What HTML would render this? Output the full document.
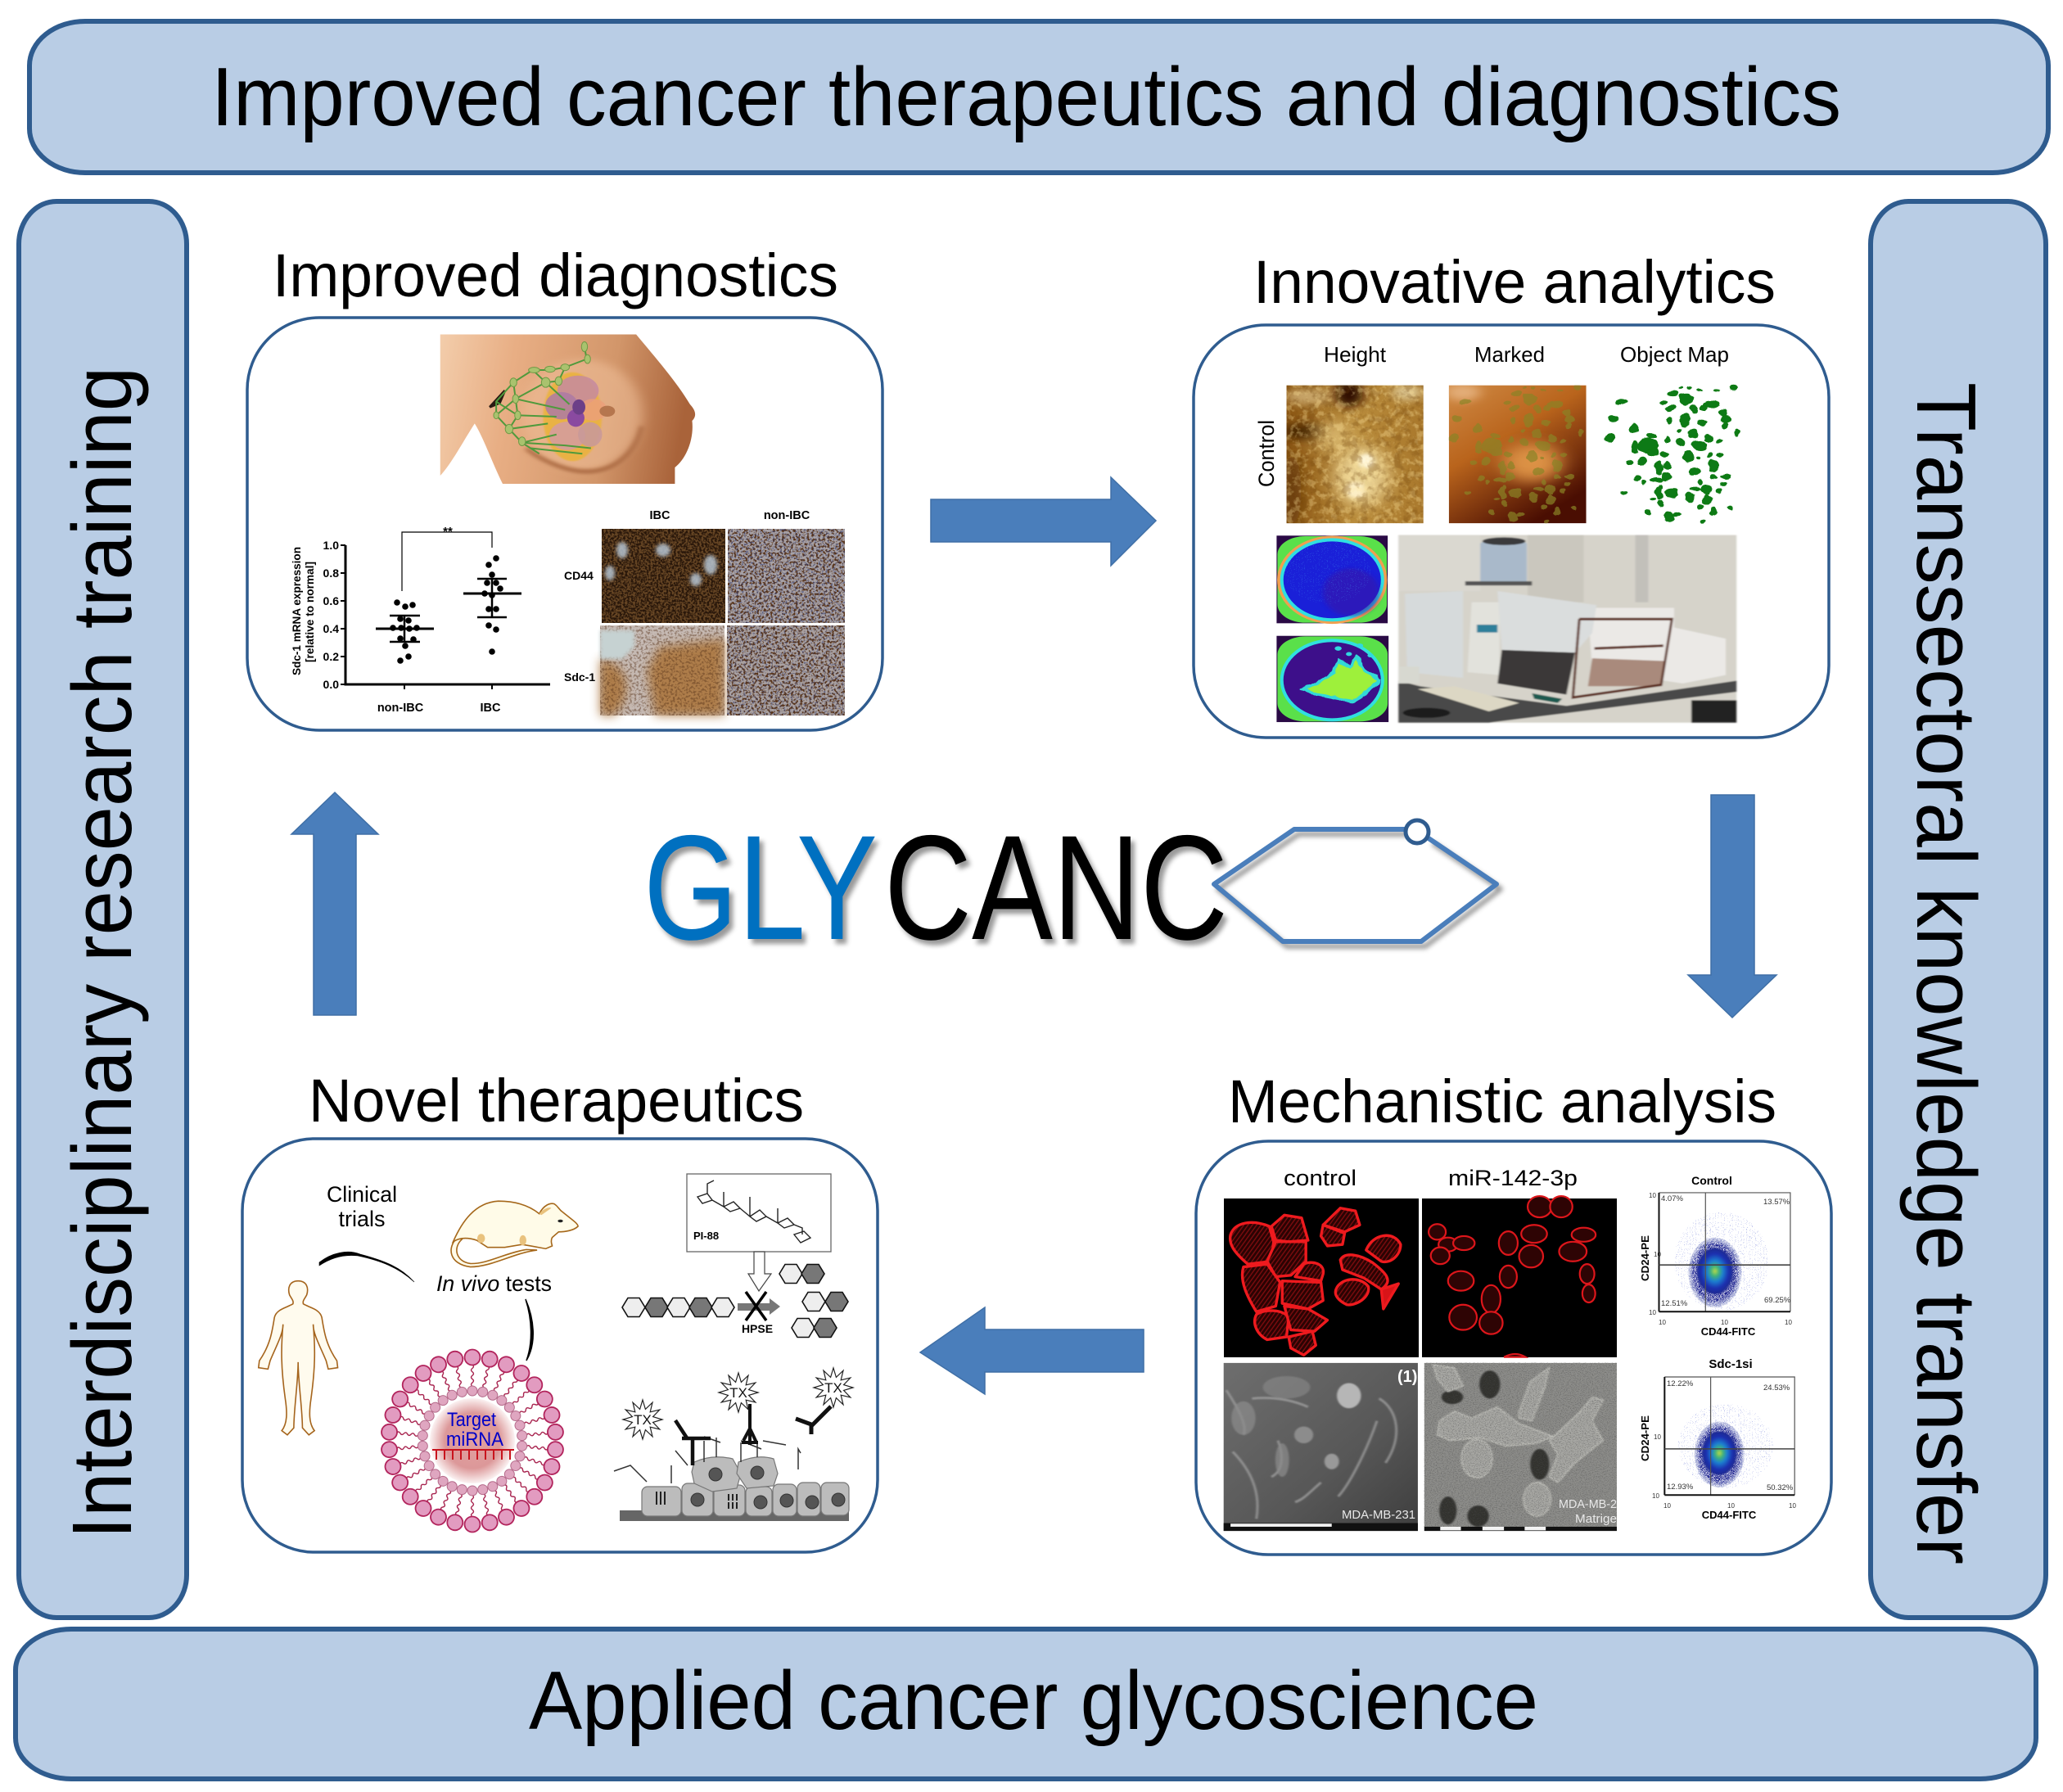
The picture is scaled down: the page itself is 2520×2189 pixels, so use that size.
<!DOCTYPE html>
<html><head><meta charset="utf-8"><title>GLYCANC</title>
<style>
html,body{margin:0;padding:0;background:#fff}
svg{display:block}
text{font-family:"Liberation Sans",sans-serif}
.ns *{vector-effect:non-scaling-stroke}
.b{font-weight:bold}
</style></head><body>
<svg width="2520" height="2189" viewBox="0 0 2520 2189" xmlns="http://www.w3.org/2000/svg">
<defs>
<filter id="shadow" x="-5%" y="-10%" width="115%" height="125%" color-interpolation-filters="sRGB"><feDropShadow dx="5" dy="6" stdDeviation="3" flood-color="#000" flood-opacity=".4"/></filter>
<filter id="nBrown" x="0" y="0" width="1" height="1" color-interpolation-filters="sRGB"><feTurbulence type="fractalNoise" baseFrequency=".42" numOctaves="2" seed="3"/><feColorMatrix values="0 0 0 0 .16  0 0 0 0 .09  0 0 0 0 .04  5 0 0 0 -2"/></filter>
<filter id="nBrown2" x="0" y="0" width="1" height="1" color-interpolation-filters="sRGB"><feTurbulence type="fractalNoise" baseFrequency=".36" numOctaves="2" seed="8"/><feColorMatrix values="0 0 0 0 .34  0 0 0 0 .2  0 0 0 0 .1  6 0 0 0 -2.9"/></filter>
<filter id="nBlue" x="0" y="0" width="1" height="1" color-interpolation-filters="sRGB"><feTurbulence type="fractalNoise" baseFrequency=".45" numOctaves="2" seed="12"/><feColorMatrix values="0 0 0 0 .2  0 0 0 0 .24  0 0 0 0 .45  7 0 0 0 -3.8"/></filter>
<filter id="nGray" x="0" y="0" width="1" height="1" color-interpolation-filters="sRGB"><feTurbulence type="fractalNoise" baseFrequency=".35" numOctaves="3" seed="5"/><feColorMatrix values="0 0 0 0 .3  0 0 0 0 .3  0 0 0 0 .3  4 0 0 0 -1.9"/></filter>
<filter id="nAFM" x="0" y="0" width="1" height="1" color-interpolation-filters="sRGB"><feTurbulence type="fractalNoise" baseFrequency=".06 .04" numOctaves="3" seed="21"/><feColorMatrix values="0 0 0 0 1  0 0 0 0 .9  0 0 0 0 .62  5 0 0 0 -2.4"/></filter>
<filter id="nAFMd" x="0" y="0" width="1" height="1" color-interpolation-filters="sRGB"><feTurbulence type="fractalNoise" baseFrequency=".05 .035" numOctaves="3" seed="33"/><feColorMatrix values="0 0 0 0 .42  0 0 0 0 .24  0 0 0 0 .03  5 0 0 0 -2.4"/></filter>
<filter id="speck" x="-10%" y="-10%" width="120%" height="120%" color-interpolation-filters="sRGB"><feTurbulence type="fractalNoise" baseFrequency="1" numOctaves="1" seed="4" result="t"/><feColorMatrix in="t" values="0 0 0 0 0  0 0 0 0 0  0 0 0 0 0  18 0 0 0 -8" result="m"/><feComposite in="SourceGraphic" in2="m" operator="in"/></filter>
<filter id="speck2" x="-10%" y="-10%" width="120%" height="120%" color-interpolation-filters="sRGB"><feTurbulence type="fractalNoise" baseFrequency=".9" numOctaves="1" seed="9" result="t"/><feColorMatrix in="t" values="0 0 0 0 0  0 0 0 0 0  0 0 0 0 0  30 0 0 0 -20" result="m"/><feComposite in="SourceGraphic" in2="m" operator="in"/></filter>
<filter id="rough" x="-5%" y="-5%" width="110%" height="110%"><feTurbulence type="fractalNoise" baseFrequency=".035" numOctaves="2" seed="7"/><feDisplacementMap in="SourceGraphic" scale="16" xChannelSelector="R" yChannelSelector="G"/></filter>
<filter id="bl2" x="-10%" y="-10%" width="120%" height="120%"><feGaussianBlur stdDeviation="2"/></filter>
<filter id="bl6" x="-30%" y="-30%" width="160%" height="160%"><feGaussianBlur stdDeviation="6"/></filter>
<filter id="bl14" x="-60%" y="-60%" width="220%" height="220%"><feGaussianBlur stdDeviation="14"/></filter>
<filter id="bl30" x="-100%" y="-100%" width="300%" height="300%"><feGaussianBlur stdDeviation="24"/></filter>
<linearGradient id="skin" x1="0" x2="1" y1="0" y2=".1"><stop offset="0" stop-color="#f3cdab"/><stop offset=".3" stop-color="#e8ae84"/><stop offset=".7" stop-color="#d2966a"/><stop offset="1" stop-color="#a9633a"/></linearGradient>
<radialGradient id="core"><stop offset="0" stop-color="#e2a0a0"/><stop offset=".65" stop-color="#dc9899"/><stop offset="1" stop-color="#fbf2f2"/></radialGradient>
<radialGradient id="blob"><stop offset="0" stop-color="#b9d94a"/><stop offset=".22" stop-color="#3fb37a"/><stop offset=".45" stop-color="#1e7fd0"/><stop offset=".75" stop-color="#1a30b0"/><stop offset="1" stop-color="#202a90"/></radialGradient>
<radialGradient id="blobO"><stop offset="0" stop-color="#151a88"/><stop offset=".8" stop-color="#161c8c"/><stop offset="1" stop-color="#3040a0" stop-opacity=".3"/></radialGradient>
<linearGradient id="sem1" x1="0" x2="1" y1="0" y2="1"><stop offset="0" stop-color="#6e6e6e"/><stop offset=".6" stop-color="#575757"/><stop offset="1" stop-color="#3e3e3e"/></linearGradient>
<linearGradient id="mark" x1="0" x2=".6" y1="0" y2="1"><stop offset="0" stop-color="#cf8a45"/><stop offset=".45" stop-color="#b9641c"/><stop offset="1" stop-color="#4a0e02"/></linearGradient>
<linearGradient id="afm" x1="0" x2="1" y1="0" y2="0"><stop offset="0" stop-color="#8a5512"/><stop offset=".5" stop-color="#b98c3c"/><stop offset="1" stop-color="#a9782c"/></linearGradient>
<pattern id="stri" width="9" height="9" patternUnits="userSpaceOnUse" patternTransform="rotate(25)"><rect width="9" height="9" fill="#2a0303"/><rect width="3" height="9" fill="#7a0c0e"/></pattern>
<clipPath id="cH"><rect x="250" y="265" width="318" height="493"/></clipPath>
<clipPath id="cM"><rect x="627" y="265" width="319" height="493"/></clipPath>
<polygon id="hex" points="-14,0 -7,-11.5 7,-11.5 14,0 7,11.5 -7,11.5"/>
<polygon id="star" points="24,0 12.6,3.4 20.8,12 9.2,9.2 12,20.8 3.4,12.6 0,24 -3.4,12.6 -12,20.8 -9.2,9.2 -20.8,12 -12.6,3.4 -24,0 -12.6,-3.4 -20.8,-12 -9.2,-9.2 -12,-20.8 -3.4,-12.6 0,-24 3.4,-12.6 12,-20.8 9.2,-9.2 20.8,-12 12.6,-3.4" fill="#fff" stroke="#222" stroke-width="1.2"/>
<g id="lip">
<path d="M0,-93 q3,2.2 0,4.4 q-3,2.2 0,4.4 q3,2.2 0,4.4 q-3,2.2 0,4.4 q3,2.2 0,4.4 q-3,2.2 0,4.4 q3,2.2 0,4.4" fill="none" stroke="#a8244f" stroke-width="1.4"/>
<circle cy="-102" r="9.5" fill="#e29bc0" stroke="#b2245c" stroke-width="1.8"/>
<circle cy="-61" r="6" fill="#dfa6c0" stroke="#b56a8a" stroke-width="1"/>
</g>
<g id="objs">
  <ellipse cx="1178" cy="315" rx="15" ry="22"/><ellipse cx="1238" cy="333" rx="17" ry="13"/><ellipse cx="1150" cy="295" rx="12" ry="8"/><ellipse cx="1123" cy="325" rx="7" ry="8"/><ellipse cx="1143" cy="348" rx="8" ry="12"/><ellipse cx="1197" cy="352" rx="7" ry="14"/><ellipse cx="1218" cy="345" rx="8" ry="9"/><ellipse cx="1175" cy="390" rx="12" ry="22"/><ellipse cx="1138" cy="390" rx="7" ry="14"/><ellipse cx="1215" cy="397" rx="10" ry="9"/><ellipse cx="1270" cy="385" rx="10" ry="14"/><ellipse cx="1268" cy="408" rx="6" ry="10"/><ellipse cx="1265" cy="362" rx="8" ry="12"/><ellipse cx="1027" cy="325" rx="10" ry="10"/><ellipse cx="1010" cy="383" rx="10" ry="11"/><ellipse cx="1058" cy="418" rx="8" ry="17"/><ellipse cx="1000" cy="453" rx="9" ry="12"/><ellipse cx="1195" cy="437" rx="8" ry="17"/><ellipse cx="1160" cy="427" rx="5" ry="7"/><ellipse cx="1098" cy="445" rx="11" ry="9"/><ellipse cx="1090" cy="480" rx="22" ry="25"/><ellipse cx="1058" cy="485" rx="8" ry="20"/><ellipse cx="1102" cy="503" rx="13" ry="15"/><ellipse cx="1133" cy="458" rx="6" ry="10"/><ellipse cx="1165" cy="470" rx="10" ry="12"/><ellipse cx="1210" cy="480" rx="15" ry="17"/><ellipse cx="1230" cy="455" rx="8" ry="12"/><ellipse cx="1255" cy="465" rx="6" ry="7"/><ellipse cx="1183" cy="518" rx="10" ry="18"/><ellipse cx="1235" cy="515" rx="5" ry="8"/><ellipse cx="1257" cy="513" rx="5" ry="9"/><ellipse cx="1205" cy="522" rx="4" ry="5"/><ellipse cx="1240" cy="553" rx="11" ry="20"/><ellipse cx="1197" cy="573" rx="14" ry="14"/><ellipse cx="1075" cy="538" rx="9" ry="14"/><ellipse cx="1047" cy="543" rx="7" ry="10"/><ellipse cx="1115" cy="560" rx="9" ry="22"/><ellipse cx="1133" cy="550" rx="7" ry="12"/><ellipse cx="1128" cy="510" rx="8" ry="10"/><ellipse cx="1065" cy="598" rx="7" ry="12"/><ellipse cx="1080" cy="613" rx="4" ry="6"/><ellipse cx="1110" cy="603" rx="14" ry="8"/><ellipse cx="1132" cy="590" rx="11" ry="14"/><ellipse cx="1243" cy="592" rx="8" ry="8"/><ellipse cx="1270" cy="590" rx="10" ry="8"/><ellipse cx="1265" cy="617" rx="7" ry="7"/><ellipse cx="1225" cy="637" rx="12" ry="18"/><ellipse cx="1200" cy="635" rx="10" ry="6"/><ellipse cx="1255" cy="645" rx="5" ry="8"/><ellipse cx="1210" cy="610" rx="6" ry="8"/><ellipse cx="1033" cy="648" rx="7" ry="7"/><ellipse cx="1115" cy="650" rx="8" ry="22"/><ellipse cx="1145" cy="652" rx="12" ry="14"/><ellipse cx="1188" cy="665" rx="10" ry="17"/><ellipse cx="1225" cy="675" rx="9" ry="18"/><ellipse cx="1118" cy="690" rx="6" ry="14"/><ellipse cx="1100" cy="672" rx="5" ry="4"/><ellipse cx="1088" cy="718" rx="7" ry="10"/><ellipse cx="1210" cy="703" rx="8" ry="8"/><ellipse cx="1243" cy="713" rx="7" ry="12"/><ellipse cx="1282" cy="703" rx="7" ry="8"/><ellipse cx="1140" cy="735" rx="12" ry="17"/><ellipse cx="1158" cy="725" rx="7" ry="8"/><ellipse cx="1215" cy="752" rx="5" ry="6"/><ellipse cx="1288" cy="275" rx="7" ry="8"/><ellipse cx="1185" cy="272" rx="5" ry="4"/><ellipse cx="1210" cy="283" rx="5" ry="4"/><ellipse cx="1250" cy="285" rx="5" ry="3"/><ellipse cx="1295" cy="435" rx="4" ry="9"/><ellipse cx="1163" cy="272" rx="4" ry="4"/><ellipse cx="1120" cy="628" rx="4" ry="8"/>
</g>
</defs>
<rect width="2520" height="2189" fill="#fff"/>

<!-- frames -->
<g fill="#b9cde5" stroke="#2f5c8f" stroke-width="6">
<rect x="36" y="26" width="2466" height="185" rx="68" ry="54"/>
<rect x="23" y="246" width="205" height="1730" rx="46" ry="52"/>
<rect x="2285" y="246" width="214" height="1730" rx="46" ry="52"/>
<rect x="19" y="1990" width="2468" height="183" rx="68" ry="50"/>
</g>
<text x="258" y="153" font-size="101" textLength="1991" lengthAdjust="spacingAndGlyphs">Improved cancer therapeutics and diagnostics</text>
<text x="646" y="2112" font-size="101" textLength="1233" lengthAdjust="spacingAndGlyphs">Applied cancer glycoscience</text>
<text transform="translate(160 1880) rotate(-90)" font-size="103" textLength="1432" lengthAdjust="spacingAndGlyphs">Interdisciplinary research training</text>
<text transform="translate(2342 467) rotate(90)" font-size="103" textLength="1444" lengthAdjust="spacingAndGlyphs">Transsectoral knowledge transfer</text>

<!-- panels -->
<g fill="#fff" stroke="#2f5c8f" stroke-width="3.5">
<rect x="302" y="388" width="776" height="504" rx="88" ry="88"/>
<rect x="1458" y="397" width="776" height="504" rx="88" ry="88"/>
<rect x="296" y="1391" width="776" height="505" rx="88" ry="88"/>
<rect x="1461" y="1394" width="776" height="505" rx="88" ry="88"/>
</g>
<text x="333" y="362" font-size="74" textLength="691" lengthAdjust="spacingAndGlyphs">Improved diagnostics</text>
<text x="1531" y="370" font-size="74" textLength="638" lengthAdjust="spacingAndGlyphs">Innovative analytics</text>
<text x="377" y="1370" font-size="74" textLength="605" lengthAdjust="spacingAndGlyphs">Novel therapeutics</text>
<text x="1500" y="1371" font-size="74" textLength="670" lengthAdjust="spacingAndGlyphs">Mechanistic analysis</text>

<!-- arrows -->
<g fill="#4a7ebb" stroke="#3f6fa6" stroke-width="1.5">
<polygon points="1137,610 1357,610 1357,583 1412,636 1357,691 1357,662 1137,662"/>
<polygon points="2090,971 2143,971 2143,1191 2170,1191 2116,1243 2062,1191 2090,1191"/>
<polygon points="1397,1624 1203,1624 1203,1597 1124,1652 1203,1703 1203,1676 1397,1676"/>
<polygon points="383,1240 435,1240 435,1019 462,1019 409,968 356,1019 383,1019"/>
</g>

<!-- logo -->
<g filter="url(#shadow)">
<text x="786" y="1147" font-size="182" fill="#0070c0" textLength="286" lengthAdjust="spacingAndGlyphs">GLY</text>
<text x="1080" y="1147" font-size="182" fill="#000" textLength="420" lengthAdjust="spacingAndGlyphs">CANC</text>
<polyline points="1733,1013 1581,1013 1483,1080 1567,1150 1736,1150 1828,1080 1745,1024" fill="none" stroke="#4a7ebb" stroke-width="6" stroke-linejoin="round"/>
</g>
<ellipse cx="1731" cy="1016" rx="14" ry="14" fill="#fff" stroke="#2f5c8f" stroke-width="5"/>

<!-- PANEL 1 -->
<g class="ns" transform="translate(280 380) scale(.526 .335)">
 <path d="M490,85 L945,85 C990,170 1040,260 1070,340 C1085,365 1085,385 1075,400 C1080,470 1060,540 1035,570 L1035,630 L635,630 C610,550 590,460 570,410 C545,470 515,560 490,600 Z" fill="url(#skin)"/>
 <ellipse cx="820" cy="380" rx="140" ry="205" fill="#eebd97" filter="url(#bl14)" opacity=".6"/>
 <path d="M958,420 C945,510 900,585 830,585 C780,585 720,540 690,500" fill="none" stroke="#a9683f" stroke-width="5" filter="url(#bl6)"/>
 <path d="M605,350 L640,290 L628,335 Z" fill="#2a1a12" stroke="#2a1a12" stroke-width="3"/>
 <ellipse cx="797" cy="385" rx="68" ry="162" fill="#eab33c" opacity=".9" filter="url(#bl2)"/>
 <ellipse cx="810" cy="290" rx="48" ry="55" fill="#c58aa0" opacity=".85"/>
 <ellipse cx="772" cy="345" rx="38" ry="50" fill="#ad7aa3" opacity=".85"/>
 <ellipse cx="785" cy="455" rx="42" ry="52" fill="#d59c9c" opacity=".9"/>
 <ellipse cx="838" cy="450" rx="28" ry="45" fill="#c99999" opacity=".9"/>
 <ellipse cx="845" cy="360" rx="32" ry="40" fill="#eb9f7a" opacity=".85"/>
 <ellipse cx="805" cy="390" rx="20" ry="32" fill="#8a4aa0"/>
 <ellipse cx="812" cy="350" rx="15" ry="28" fill="#6c3f88"/>
 <ellipse cx="878" cy="365" rx="18" ry="20" fill="#b5764e"/>
 <g fill="none" stroke="#4f9a3c" stroke-width="2">
  <path d="M825,130 L830,175 L780,205 L745,215 L705,215 L660,260 L620,330 L620,380 L650,430 L680,480 L720,520"/>
  <path d="M705,215 L735,260 L765,255 L780,205 M660,260 L665,320 L670,380 L650,430 M665,320 L620,380 M670,380 L620,330 M735,260 L665,320 M680,480 L780,490 L840,500 M650,430 L740,410 M670,380 L760,385 M665,320 L780,360 M735,260 L790,340 M680,480 L760,450 M700,500 L820,520"/>
 </g>
 <g fill="#a9c26e" stroke="#6f9a45" stroke-width="1">
  <ellipse cx="825" cy="130" rx="7" ry="18"/><ellipse cx="832" cy="175" rx="7" ry="16"/><ellipse cx="780" cy="205" rx="10" ry="12"/><ellipse cx="745" cy="212" rx="12" ry="11"/><ellipse cx="708" cy="215" rx="13" ry="10"/><ellipse cx="660" cy="260" rx="8" ry="16"/><ellipse cx="735" cy="260" rx="10" ry="18"/><ellipse cx="765" cy="255" rx="8" ry="16"/><ellipse cx="665" cy="320" rx="7" ry="16"/><ellipse cx="670" cy="380" rx="7" ry="16"/><ellipse cx="620" cy="380" rx="6" ry="13"/><ellipse cx="650" cy="430" rx="9" ry="17"/><ellipse cx="680" cy="475" rx="8" ry="16"/>
 </g>
</g>
<!-- scatter -->
<g fill="none" stroke="#000">
 <path d="M422,666 V836 H672" stroke-width="3"/>
 <path d="M416,666H422M416,700H422M416,734H422M416,768H422M416,802H422M416,836H422M494,836V842M601,836V842" stroke-width="2"/>
 <path d="M491,722V650H601V669" stroke-width="1.2"/>
 <path d="M459,768H530M566,725H637" stroke-width="3"/>
 <path d="M476,752H513M476,784H513M494,752V784M583,707H619M583,754H619M601,707V754" stroke-width="2.5"/>
</g>
<g fill="#000">
 <circle cx="485" cy="736" r="3.8"/><circle cx="495" cy="741" r="3.8"/><circle cx="504" cy="739" r="3.8"/><circle cx="489" cy="756" r="3.8"/><circle cx="499" cy="758" r="3.8"/><circle cx="480" cy="767" r="3.8"/><circle cx="490" cy="767" r="3.8"/><circle cx="500" cy="768" r="3.8"/><circle cx="509" cy="767" r="3.8"/><circle cx="489" cy="780" r="3.8"/><circle cx="505" cy="781" r="3.8"/><circle cx="495" cy="789" r="3.8"/><circle cx="499" cy="802" r="3.8"/><circle cx="489" cy="807" r="3.8"/>
 <circle cx="606" cy="682" r="3.8"/><circle cx="597" cy="690" r="3.8"/><circle cx="601" cy="702" r="3.8"/><circle cx="595" cy="712" r="3.8"/><circle cx="606" cy="712" r="3.8"/><circle cx="592" cy="725" r="3.8"/><circle cx="611" cy="719" r="3.8"/><circle cx="601" cy="727" r="3.8"/><circle cx="597" cy="744" r="3.8"/><circle cx="606" cy="744" r="3.8"/><circle cx="597" cy="764" r="3.8"/><circle cx="606" cy="769" r="3.8"/><circle cx="601" cy="796" r="3.8"/>
</g>
<g class="b" font-size="14" text-anchor="end">
 <text x="414" y="671">1.0</text><text x="414" y="705">0.8</text><text x="414" y="739">0.6</text><text x="414" y="773">0.4</text><text x="414" y="807">0.2</text><text x="414" y="841">0.0</text>
</g>
<text class="b" x="547" y="654" font-size="15" text-anchor="middle">**</text>
<text class="b" x="489" y="869" font-size="14.5" text-anchor="middle">non-IBC</text>
<text class="b" x="599" y="869" font-size="14.5" text-anchor="middle">IBC</text>
<text class="b" transform="translate(367 825) rotate(-90)" font-size="13.5" textLength="157" lengthAdjust="spacingAndGlyphs">Sdc-1 mRNA expression</text>
<text class="b" transform="translate(383 809) rotate(-90)" font-size="13.5" textLength="123" lengthAdjust="spacingAndGlyphs">[relative to normal]</text>
<!-- histology -->
<rect x="735" y="646" width="151" height="115" fill="#674624"/><rect x="735" y="646" width="151" height="115" filter="url(#nBrown)"/>
<g fill="#b6c4d2" opacity=".85" filter="url(#bl2)"><ellipse cx="760" cy="672" rx="7" ry="10"/><ellipse cx="810" cy="672" rx="9" ry="8"/><ellipse cx="868" cy="690" rx="8" ry="12"/><ellipse cx="850" cy="708" rx="7" ry="8"/><ellipse cx="745" cy="700" rx="6" ry="9"/></g>
<rect x="889" y="646" width="143" height="115" fill="#a8a2a6"/><rect x="889" y="646" width="143" height="115" filter="url(#nBrown2)"/><rect x="889" y="646" width="143" height="115" filter="url(#nBlue)" opacity=".6"/>
<rect x="733" y="764" width="152" height="110" fill="#c6bab4"/>
<path d="M805,790 L885,780 V874 L800,874 L790,820Z M733,805 C770,810 775,850 750,874 H733Z" fill="#ad7a45" opacity=".95" filter="url(#bl6)"/>
<rect x="733" y="764" width="152" height="110" filter="url(#nBrown2)" opacity=".45"/>
<path d="M733,770 L775,770 L775,790 L760,805 L733,805Z" fill="#c6d2d2" filter="url(#bl2)"/>
<rect x="888" y="764" width="144" height="110" fill="#aaa2a2"/><rect x="888" y="764" width="144" height="110" filter="url(#nBrown2)"/><rect x="888" y="764" width="144" height="110" filter="url(#nBlue)" opacity=".5"/>
<text class="b" x="806" y="634" font-size="14.5" text-anchor="middle">IBC</text>
<text class="b" x="961" y="634" font-size="14.5" text-anchor="middle">non-IBC</text>
<text class="b" x="689" y="708" font-size="14">CD44</text>
<text class="b" x="689" y="832" font-size="14">Sdc-1</text>

<!-- PANEL 2 -->
<g class="ns" transform="translate(1440 380) scale(.526 .342)">
 <g clip-path="url(#cH)">
  <rect x="250" y="265" width="318" height="493" fill="url(#afm)"/>
  <ellipse cx="395" cy="295" rx="32" ry="48" fill="#2e1002" filter="url(#bl14)"/>
  <ellipse cx="290" cy="430" rx="50" ry="30" fill="#4a2806" filter="url(#bl14)"/>
  <ellipse cx="262" cy="640" rx="22" ry="130" fill="#6a3e08" filter="url(#bl14)"/>
  <ellipse cx="300" cy="305" rx="55" ry="30" fill="#dcc088" opacity=".7" filter="url(#bl14)"/>
  <ellipse cx="530" cy="290" rx="36" ry="30" fill="#e8d8a8" opacity=".8" filter="url(#bl14)"/>
  <ellipse cx="425" cy="590" rx="62" ry="110" fill="#efd99c" opacity=".9" filter="url(#bl30)"/>
  <ellipse cx="360" cy="450" rx="42" ry="60" fill="#e3c47c" opacity=".8" filter="url(#bl30)"/>
  <ellipse cx="435" cy="535" rx="18" ry="26" fill="#fff6d8" filter="url(#bl6)"/>
  <ellipse cx="410" cy="640" rx="22" ry="30" fill="#fff2cc" opacity=".9" filter="url(#bl6)"/>
  <rect x="250" y="265" width="318" height="493" filter="url(#nAFM)" opacity=".35"/>
  <rect x="250" y="265" width="318" height="493" filter="url(#nAFMd)" opacity=".28"/>
 </g>
 <g clip-path="url(#cM)">
  <rect x="627" y="265" width="319" height="493" fill="url(#mark)"/>
  <ellipse cx="820" cy="540" rx="70" ry="70" fill="#dc9144" filter="url(#bl30)"/>
  <ellipse cx="660" cy="290" rx="40" ry="30" fill="#e3ad78" filter="url(#bl14)"/>
  <use href="#objs" transform="translate(-363 0)" fill="#8a8428" stroke="#8a8428" stroke-width="2" opacity=".7" filter="url(#rough)"/>
 </g>
 <use href="#objs" fill="#0d7a12" stroke="#0d7a12" stroke-width="3" filter="url(#rough)"/>
 <!-- colour maps -->
 <rect x="227" y="802" width="258" height="313" fill="#2a0a45"/>
 <rect x="229" y="804" width="254" height="309" rx="65" ry="65" fill="#5ae04a"/>
 <ellipse cx="356" cy="960" rx="123" ry="150" fill="none" stroke="#f0a050" stroke-width="5"/>
 <ellipse cx="356" cy="960" rx="117" ry="143" fill="#1a20d8" stroke="#30e0e0" stroke-width="4"/>
 <ellipse cx="400" cy="1005" rx="65" ry="85" fill="#3814a8" opacity=".6" filter="url(#bl6)"/>
 <ellipse cx="345" cy="930" rx="100" ry="115" fill="#48a8f4" filter="url(#speck2)" opacity=".55"/>
 <rect x="227" y="1160" width="260" height="308" fill="#2a0a45"/>
 <rect x="229" y="1162" width="256" height="304" rx="65" ry="65" fill="#5ae04a"/>
 <ellipse cx="356" cy="1318" rx="117" ry="142" fill="#3d0f8a" stroke="#30e0e0" stroke-width="4"/>
 <path d="M290,1350 L330,1320 L360,1290 L370,1250 L400,1270 L415,1235 L430,1280 L465,1320 L440,1360 L400,1395 L360,1380 L320,1370Z" fill="#9ef03a" stroke="#30d8d8" stroke-width="4" filter="url(#rough)"/>
 <g fill="#30d8e0"><circle cx="370" cy="1205" r="8"/><circle cx="420" cy="1195" r="8"/><circle cx="395" cy="1225" r="7"/><circle cx="445" cy="1230" r="7"/></g>
 <!-- instrument photo -->
 <g filter="url(#bl2)">
 <rect x="510" y="800" width="785" height="670" fill="#d6d3ca"/>
 <rect x="810" y="800" width="130" height="240" fill="#cac7be"/><rect x="1060" y="800" width="30" height="240" fill="#c2c0ba"/><rect x="510" y="800" width="190" height="200" fill="#dad8d0"/>
 <path d="M700,830 C720,805 790,805 808,830 V965 H700Z" fill="#a9b9ca"/>
 <ellipse cx="755" cy="822" rx="50" ry="14" fill="#3a3a3e"/>
 <rect x="665" y="965" width="155" height="15" fill="#555"/>
 <polygon points="525,1010 660,1000 660,1310 530,1290" fill="#d6dadb"/>
 <polygon points="680,1040 745,1040 745,1300 670,1290" fill="#e2e2dc"/><rect x="692" y="1120" width="48" height="28" fill="#2f7f9a"/>
 <polygon points="950,1060 1150,1060 1150,1130 1270,1170 1270,1300 1170,1330 960,1280" fill="#ebe9e6"/>
 <polygon points="740,1000 970,1050 960,1150 920,1220 750,1210" fill="#dadddd"/>
 <polygon points="750,1210 920,1220 900,1370 740,1330" fill="#3a3938"/>
 <polygon points="960,1240 1130,1250 1120,1340 950,1340" fill="#a98a7c"/>
 <g fill="none" stroke="#5a2b1c" stroke-width="3"><polyline points="930,1100 1145,1100 1120,1335 915,1380 930,1100"/><polyline points="965,1205 1125,1195"/></g>
 <polygon points="510,1320 560,1340 900,1410 1295,1320 1295,1360 720,1470 510,1470" fill="#4a4a48"/>
 <polygon points="555,1350 640,1340 790,1400 720,1430" fill="#dcd7c4"/>
 <polygon points="820,1365 890,1385 880,1400 825,1385" fill="#1f5a50"/>
 <rect x="510" y="1270" width="48" height="60" fill="#d7d8d0"/>
 <ellipse cx="575" cy="1435" rx="55" ry="18" fill="#1c1c1e"/>
 <rect x="1190" y="1390" width="105" height="80" fill="#222"/>
 </g>
</g>
<text x="1655" y="442" font-size="26" text-anchor="middle" textLength="76" lengthAdjust="spacingAndGlyphs">Height</text>
<text x="1844" y="442" font-size="26" text-anchor="middle" textLength="86" lengthAdjust="spacingAndGlyphs">Marked</text>
<text x="1979" y="442" font-size="26" textLength="133" lengthAdjust="spacingAndGlyphs">Object Map</text>
<text transform="translate(1556 595) rotate(-90)" font-size="27" textLength="82" lengthAdjust="spacingAndGlyphs">Control</text>

<!-- PANEL 3 -->
<text x="442" y="1468" font-size="27" text-anchor="middle" textLength="86" lengthAdjust="spacingAndGlyphs">Clinical</text>
<text x="442" y="1498" font-size="27" text-anchor="middle">trials</text>
<text x="533" y="1577" font-size="27" textLength="141" lengthAdjust="spacingAndGlyphs"><tspan font-style="italic">In vivo</tspan> tests</text>
<g class="ns" transform="translate(280 1380) scale(.526 .342)">
 <path d="M530,385 C505,420 510,480 560,490 C610,490 660,440 715,430 L690,428 C640,440 600,480 560,478 C525,470 520,420 540,392Z" fill="#fffbe8" stroke="#a5671a" stroke-width="1.6"/>
 <path d="M520,400 C540,330 570,260 625,255 C670,255 700,275 720,300 C730,270 745,260 755,265 C765,275 765,285 775,295 C795,320 810,335 810,345 C800,360 780,365 765,365 L750,385 C745,400 750,410 750,415 L735,425 L700,415 L680,410 L640,420 L600,420 L575,395 C555,385 535,385 520,400Z" fill="#fffbe8" stroke="#a5671a" stroke-width="1.6"/>
 <path d="M720,300 C730,280 745,275 748,280 L725,305Z" fill="#e9c27e"/>
 <ellipse cx="585" cy="388" rx="9" ry="16" fill="#e9c27e"/><ellipse cx="682" cy="395" rx="8" ry="18" fill="#e9c27e"/>
 <ellipse cx="769" cy="326" rx="6" ry="5" fill="#222"/>
 <path d="M160,540 C140,540 135,565 140,590 C145,605 150,610 148,622 C135,635 110,640 105,670 C100,720 95,770 70,825 L68,850 L90,855 L95,825 C110,770 125,730 125,695 C120,780 120,850 130,960 C135,1010 135,1050 122,1075 L135,1090 L150,1065 C150,1000 160,900 160,830 C160,900 170,1000 170,1065 L185,1090 L198,1075 C185,1050 185,1010 190,960 C200,850 200,780 195,695 C195,730 210,770 225,825 L230,855 L252,850 L250,825 C225,770 220,720 215,670 C210,640 185,635 172,622 C170,610 175,605 180,590 C185,565 180,540 160,540Z" fill="#fffbee" stroke="#a5641c" stroke-width="1.6"/>
</g>
<path d="M390,1542 C405,1530 425,1526 440,1532 C470,1540 490,1548 506,1566 C486,1548 465,1540 437,1534 C420,1532 405,1536 390,1546Z" fill="#000" stroke="#000" stroke-width=".6"/>
<path d="M642,1587 C652,1610 656,1640 643,1662 C651,1640 650,1612 642,1587Z" fill="#000" stroke="#000" stroke-width="1.5"/>
<circle cx="577" cy="1760" r="52" fill="url(#core)"/>
<g transform="translate(577 1760)">
<use href="#lip"/><use href="#lip" transform="rotate(12)"/><use href="#lip" transform="rotate(24)"/><use href="#lip" transform="rotate(36)"/><use href="#lip" transform="rotate(48)"/><use href="#lip" transform="rotate(60)"/><use href="#lip" transform="rotate(72)"/><use href="#lip" transform="rotate(84)"/><use href="#lip" transform="rotate(96)"/><use href="#lip" transform="rotate(108)"/><use href="#lip" transform="rotate(120)"/><use href="#lip" transform="rotate(132)"/><use href="#lip" transform="rotate(144)"/><use href="#lip" transform="rotate(156)"/><use href="#lip" transform="rotate(168)"/><use href="#lip" transform="rotate(180)"/><use href="#lip" transform="rotate(192)"/><use href="#lip" transform="rotate(204)"/><use href="#lip" transform="rotate(216)"/><use href="#lip" transform="rotate(228)"/><use href="#lip" transform="rotate(240)"/><use href="#lip" transform="rotate(252)"/><use href="#lip" transform="rotate(264)"/><use href="#lip" transform="rotate(276)"/><use href="#lip" transform="rotate(288)"/><use href="#lip" transform="rotate(300)"/><use href="#lip" transform="rotate(312)"/><use href="#lip" transform="rotate(324)"/><use href="#lip" transform="rotate(336)"/><use href="#lip" transform="rotate(348)"/>
</g>
<text x="546" y="1742" font-size="24" fill="#0000c8" textLength="60" lengthAdjust="spacingAndGlyphs">Target</text>
<text x="545" y="1766" font-size="24" fill="#0000c8" textLength="70" lengthAdjust="spacingAndGlyphs">miRNA</text>
<path d="M528,1771H628M533,1771v12M543,1771v12M553,1771v12M563,1771v12M573,1771v12M583,1771v12M593,1771v12M603,1771v12M613,1771v12M623,1771v12" fill="none" stroke="#c8141e" stroke-width="2"/>
<!-- PI-88 -->
<rect x="839" y="1434" width="176" height="95" fill="#fff" stroke="#666" stroke-width="1.3"/>
<path d="M852,1462 L864,1458 L870,1466 L858,1470Z M870,1466 L884,1474 M884,1474 L896,1468 L904,1476 L892,1480Z M904,1476 L916,1486 M916,1486 L928,1478 L936,1486 L924,1492Z M936,1486 L950,1494 M950,1494 L962,1488 L970,1496 L958,1500Z M970,1496 L980,1500 V1508 M970,1508 L982,1504 L990,1512 L978,1518Z M864,1458V1446L872,1442M884,1474V1456M916,1486V1462M950,1494V1476" fill="none" stroke="#222" stroke-width="1.4"/>
<text class="b" x="847" y="1514" font-size="13">PI-88</text>
<polygon points="921,1529 934,1529 934,1556 942,1556 927,1577 914,1556 921,1556" fill="#fff" stroke="#444" stroke-width="1.2"/>
<g stroke="#111" stroke-width="1.6">
<use href="#hex" x="774" y="1597" fill="#eee"/><use href="#hex" x="802" y="1597" fill="#777"/><use href="#hex" x="829" y="1597" fill="#eee"/><use href="#hex" x="856" y="1597" fill="#777"/><use href="#hex" x="883" y="1597" fill="#eee"/>
<use href="#hex" x="966" y="1556" fill="#eee"/><use href="#hex" x="993" y="1556" fill="#777"/>
<use href="#hex" x="994" y="1590" fill="#eee"/><use href="#hex" x="1022" y="1590" fill="#777"/>
<use href="#hex" x="981" y="1622" fill="#eee"/><use href="#hex" x="1008" y="1622" fill="#777"/>
</g>
<polygon points="901,1592 940,1592 940,1586 953,1596 940,1606 940,1601 901,1601" fill="#777"/>
<path d="M911,1578L936,1613M936,1578L911,1613" stroke="#000" stroke-width="3.5"/>
<text class="b" x="925" y="1628" font-size="14" text-anchor="middle">HPSE</text>
<!-- cells -->
<rect x="757" y="1845" width="280" height="13" fill="#666"/>
<g fill="#bcbcbc" stroke="#777" stroke-width="1.2">
<rect x="784" y="1816" width="48" height="36" rx="7"/><rect x="833" y="1812" width="38" height="40" rx="7"/><rect x="872" y="1814" width="38" height="38" rx="7"/><rect x="911" y="1816" width="32" height="36" rx="7"/><rect x="944" y="1813" width="29" height="39" rx="7"/><rect x="974" y="1811" width="28" height="41" rx="7"/><rect x="1003" y="1811" width="34" height="40" rx="7"/>
<path d="M848,1786 Q870,1776 895,1782 L905,1800 L900,1818 L870,1822 L848,1812 L845,1798Z"/><path d="M902,1786 Q925,1776 945,1782 L950,1800 L945,1815 L912,1818 L900,1800Z"/>
</g>
<g fill="#555" stroke="#333"><circle cx="874" cy="1801" r="8"/><circle cx="925" cy="1799" r="8"/><circle cx="852" cy="1832" r="8"/><circle cx="929" cy="1835" r="8"/><circle cx="961" cy="1833" r="8"/><circle cx="992" cy="1835" r="8"/><circle cx="1024" cy="1832" r="8"/></g>
<path d="M802,1830v8M807,1830v8M812,1830v8M802,1822v8M807,1822v8M812,1822v8M890,1825v8M895,1825v8M900,1825v8M890,1835v8M895,1835v8M900,1835v8" stroke="#222" stroke-width="2"/>
<path d="M860,1786V1760M875,1780V1756M905,1786V1762M925,1780V1760M860,1755 L880,1762M905,1760L930,1770M932,1760L960,1765M840,1790L825,1772M790,1810L770,1790L750,1797M975,1795L975,1770L978,1775M820,1812V1790" fill="none" stroke="#333" stroke-width="1.5"/>
<path d="M825,1735L840,1758M843,1757H846V1790M833,1757H868" stroke="#111" stroke-width="4.5" fill="none"/>
<path d="M916,1715V1765M908,1760L916,1745L924,1762M906,1762H926" stroke="#111" stroke-width="4" fill="none"/>
<path d="M1015,1718L991,1742M972,1733L991,1740M991,1740V1752" stroke="#111" stroke-width="5" fill="none"/>
<use href="#star" x="785" y="1734"/><use href="#star" x="902" y="1701"/><use href="#star" x="1018" y="1695"/>
<g font-size="17" text-anchor="middle" fill="#111"><text x="785" y="1740">TX</text><text x="902" y="1707">TX</text><text x="1018" y="1701">TX</text></g>

<!-- PANEL 4 -->
<text x="1568" y="1448" font-size="27" textLength="89" lengthAdjust="spacingAndGlyphs">control</text>
<text x="1769" y="1448" font-size="27" textLength="158" lengthAdjust="spacingAndGlyphs">miR-142-3p</text>
<rect x="1495" y="1464" width="238" height="194" fill="#000"/>
<rect x="1737" y="1464" width="238" height="194" fill="#000"/>
<g class="ns" transform="translate(1440 1380) scale(.526 .342)">
 <g fill="url(#stri)" stroke="#ee1a1e" stroke-width="3.4" stroke-linejoin="round">
  <path d="M120,375 C130,330 170,320 210,345 L220,400 L215,470 L160,480 C130,440 115,410 120,375Z"/>
  <path d="M215,345 L245,305 L285,315 L300,395 L255,400 L225,395Z"/>
  <path d="M225,400 L295,400 L295,470 L260,520 L225,525 L205,470Z"/>
  <path d="M150,490 L205,480 L235,545 L225,630 L180,650 C160,600 140,540 150,490Z"/>
  <path d="M240,540 L330,545 L335,610 L300,640 L240,620Z"/>
  <path d="M290,480 C310,465 340,480 335,515 L330,540 L270,525Z"/>
  <path d="M180,660 C200,640 240,640 255,670 L250,740 L205,750 C180,730 170,690 180,660Z"/>
  <path d="M245,630 L300,640 L345,680 L315,720 L260,715Z"/>
  <path d="M255,740 L310,720 L318,770 L290,805 L260,780Z"/>
  <path d="M335,340 L375,280 L410,290 L420,340 L385,365Z"/>
  <path d="M335,340 L385,370 L380,410 L345,415 L330,380Z"/>
  <path d="M435,430 C450,370 500,360 515,410 C515,450 490,480 470,470Z"/>
  <path d="M375,465 C385,435 420,445 450,475 C480,510 500,540 470,570 L430,530 L380,500Z"/>
  <path d="M365,570 C375,530 420,520 440,560 C445,600 410,630 390,625 C370,610 360,590 365,570Z"/>
  <path d="M470,570 L510,550 L475,640Z" fill="#d81418"/>
 </g>
 <g fill="#2e0404" stroke="#dd161b" stroke-width="2.2">
  <ellipse cx="600" cy="365" rx="20" ry="28"/><ellipse cx="625" cy="410" rx="22" ry="25"/><ellipse cx="662" cy="405" rx="25" ry="25"/><ellipse cx="607" cy="450" rx="22" ry="30"/><ellipse cx="765" cy="405" rx="22" ry="42"/><ellipse cx="825" cy="372" rx="30" ry="32"/><ellipse cx="818" cy="452" rx="28" ry="40"/><ellipse cx="838" cy="275" rx="28" ry="38"/><ellipse cx="888" cy="275" rx="26" ry="38"/><ellipse cx="940" cy="375" rx="28" ry="25"/><ellipse cx="915" cy="435" rx="32" ry="35"/><ellipse cx="948" cy="515" rx="17" ry="35"/><ellipse cx="952" cy="585" rx="15" ry="32"/><ellipse cx="655" cy="540" rx="30" ry="35"/><ellipse cx="765" cy="525" rx="20" ry="40"/><ellipse cx="725" cy="605" rx="22" ry="50"/><ellipse cx="660" cy="670" rx="32" ry="45"/><ellipse cx="725" cy="690" rx="27" ry="40"/><path d="M755,812 Q782,790 805,812Z"/>
 </g>
 <!-- SEM 1 -->
 <rect x="104" y="833" width="451" height="600" fill="url(#sem1)"/>
 <g filter="url(#bl2)">
 <g fill="none" stroke="#9c9c9c" stroke-width="3" opacity=".8">
  <path d="M170,960 Q240,950 300,990M110,930 C140,1000 160,1060 150,1090M465,960 C510,1000 520,1100 480,1190M460,1040 C440,1130 400,1260 370,1310M125,1150 C170,1220 190,1300 180,1390M230,1110 C245,1170 240,1220 215,1240M330,1260 C300,1300 290,1320 270,1330"/>
 </g>
 <g fill="#8c8c8c"><ellipse cx="250" cy="920" rx="55" ry="40" opacity=".55"/><ellipse cx="395" cy="950" rx="28" ry="45" fill="#b6b6b6"/><ellipse cx="290" cy="1090" rx="22" ry="30"/><ellipse cx="355" cy="1185" rx="17" ry="28" fill="#999"/><ellipse cx="150" cy="1030" rx="28" ry="60" opacity=".7"/><ellipse cx="240" cy="1180" rx="16" ry="60" opacity=".7"/></g>
 </g>
 <rect x="104" y="1405" width="451" height="28" fill="#111"/><rect x="120" y="1407" width="235" height="11" fill="#f2f2f2"/>
 <!-- SEM 2 -->
 <rect x="570" y="833" width="447" height="600" fill="#8d8d8a"/>
 <g filter="url(#bl2)">
 <g fill="#30302f"><ellipse cx="722" cy="910" rx="24" ry="50"/><ellipse cx="838" cy="1195" rx="22" ry="55"/><ellipse cx="625" cy="1360" rx="20" ry="50"/><ellipse cx="635" cy="955" rx="25" ry="25"/><ellipse cx="695" cy="1380" rx="25" ry="38"/></g>
 <g fill="#a8a8a4" stroke="#c4c4be" stroke-width="1.5">
  <path d="M605,1040 L640,1005 L680,1030 L740,990 L790,1050 L870,1095 L830,1120 L760,1130 L700,1100 L630,1110 L600,1090Z"/>
  <path d="M790,1010 L815,900 L860,850 L850,920 L820,1040 L790,1030Z"/>
  <path d="M860,1110 L930,1010 L960,955 L985,965 L960,1040 L985,1110 L920,1190 L880,1260 L860,1240 L880,1160Z"/>
  <ellipse cx="692" cy="1175" rx="36" ry="68"/><ellipse cx="832" cy="1320" rx="32" ry="60"/>
  <path d="M590,840 L640,850 L660,915 L625,935 L600,890Z"/>
 </g>
 </g>
 <rect x="570" y="833" width="447" height="585" filter="url(#nGray)" opacity=".45"/>
 <rect x="570" y="1418" width="447" height="15" fill="#111"/>
 <g fill="#f4f4f4"><rect x="607" y="1418" width="48" height="13"/><rect x="705" y="1418" width="50" height="13"/><rect x="803" y="1418" width="49" height="13"/></g>
 <!-- flow plots -->
 <ellipse cx="1260" cy="470" rx="110" ry="175" fill="#5060d0" filter="url(#speck2)" opacity=".7"/>
 <ellipse cx="1245" cy="510" rx="62" ry="125" fill="url(#blobO)" filter="url(#speck)"/>
 <ellipse cx="1245" cy="505" rx="42" ry="82" fill="url(#blob)" filter="url(#bl2)"/>
 <ellipse cx="1270" cy="1130" rx="110" ry="150" fill="#5060d0" filter="url(#speck2)" opacity=".7"/>
 <ellipse cx="1255" cy="1160" rx="58" ry="118" fill="url(#blobO)" filter="url(#speck)"/>
 <ellipse cx="1255" cy="1155" rx="40" ry="78" fill="url(#blob)" filter="url(#bl2)"/>
 <g fill="none" stroke="#555" stroke-width="1.2">
  <path d="M1115,225H1420V650M1128,883H1430V1305"/>
  <path d="M1223,225V650M1235,883V1305"/>
 </g>
 <path d="M1115,650 H1420 M1115,225 V650 M1128,1305 H1430 M1128,883 V1305" fill="none" stroke="#111" stroke-width="2"/>
 <path d="M1115,483H1420M1128,1140H1430" fill="none" stroke="#444" stroke-width="1.6"/>
</g>
<g font-size="9.5" fill="#333">
 <text x="2029" y="1467">4.07%</text><text x="2154" y="1471">13.57%</text><text x="2029" y="1595">12.51%</text><text x="2155" y="1591">69.25%</text>
 <text x="2036" y="1693">12.22%</text><text x="2154" y="1698">24.53%</text><text x="2036" y="1819">12.93%</text><text x="2158" y="1820">50.32%</text>
</g>
<g font-size="8" fill="#333">
 <text x="2014" y="1463">10</text><text x="2020" y="1535">10</text><text x="2014" y="1606">10</text><text x="2026" y="1618">10</text><text x="2102" y="1618">10</text><text x="2180" y="1618">10</text>
 <text x="2020" y="1758">10</text><text x="2018" y="1830">10</text><text x="2032" y="1842">10</text><text x="2110" y="1842">10</text><text x="2185" y="1842">10</text>
</g>
<text class="b" x="2091" y="1447" font-size="14" text-anchor="middle">Control</text>
<text class="b" x="2114" y="1671" font-size="15" text-anchor="middle">Sdc-1si</text>
<text class="b" x="2111" y="1631" font-size="13" text-anchor="middle">CD44-FITC</text>
<text class="b" x="2112" y="1855" font-size="13" text-anchor="middle">CD44-FITC</text>
<text class="b" transform="translate(2014 1565) rotate(-90)" font-size="12.5" textLength="56" lengthAdjust="spacingAndGlyphs">CD24-PE</text>
<text class="b" transform="translate(2014 1785) rotate(-90)" font-size="12.5" textLength="56" lengthAdjust="spacingAndGlyphs">CD24-PE</text>
<text class="b" x="1707" y="1688" font-size="20" fill="#fff">(1)</text>
<text x="1639" y="1855" font-size="15" fill="#e8e8e8" textLength="90" lengthAdjust="spacingAndGlyphs">MDA-MB-231</text>
<text x="1904" y="1842" font-size="15" fill="#e8e8e8" textLength="71" lengthAdjust="spacingAndGlyphs">MDA-MB-2</text>
<text x="1924" y="1860" font-size="15" fill="#e8e8e8" textLength="51" lengthAdjust="spacingAndGlyphs">Matrige</text>
</svg>
</body></html>
